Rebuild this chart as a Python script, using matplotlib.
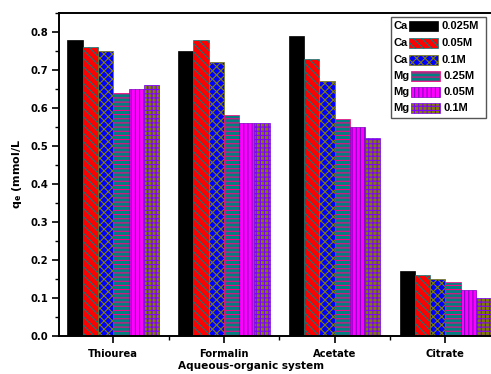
import matplotlib
matplotlib.use("Agg")
import matplotlib.pyplot as plt
from matplotlib.patches import Rectangle
from matplotlib.ticker import MultipleLocator
import numpy as np

plt.rcParams['font.family'] = ['DejaVu Sans']
plt.rcParams['font.weight'] = 'bold'
plt.rcParams['hatch.linewidth'] = 0.8

categories = ["Thiourea", "Formalin", "Acetate", "Citrate"]
series_ions = ["Ca", "Ca", "Ca", "Mg", "Mg", "Mg"]
series_conc = ["0.025M", "0.05M", "0.1M", "0.25M", "0.05M", "0.1M"]
values = [
    [0.78, 0.75, 0.79, 0.17],   # Ca 0.025M
    [0.76, 0.78, 0.73, 0.16],   # Ca 0.05M
    [0.75, 0.72, 0.67, 0.15],   # Ca 0.1M
    [0.64, 0.58, 0.57, 0.14],   # Mg 0.25M
    [0.65, 0.56, 0.55, 0.12],   # Mg 0.05M
    [0.66, 0.56, 0.52, 0.10],   # Mg 0.1M
]

faces = ["#000000", "#FF0000", "#0000FF", "#008080", "#FF00FF", "#808000"]
hatch_cols = ["#000000", "#008080", "#808000", "#FF0080", "#8000C0", "#8000FF"]
hatches = [None, "\\\\\\\\", "xxxx", "----", "||||", "++++"]

W, H = 491, 374
fig = plt.figure(figsize=(W / 100, H / 100), dpi=100)
ax = fig.add_axes([59 / W, 38.5 / H, 441.7 / W, 322.5 / H])

x = np.arange(len(categories))
w = 0.138
for k in range(6):
    ax.bar(x + (k - 2.5) * w, values[k], width=w, color=faces[k],
           edgecolor=hatch_cols[k], hatch=hatches[k], linewidth=0.5)

ax.set_xlim(-0.49, 3.5)
ax.set_ylim(0, 0.85)
ax.set_xticks(x)
ax.set_xticklabels(categories)
ax.set_xticks(x[:-1] + 0.5, minor=True)
ax.yaxis.set_major_locator(MultipleLocator(0.1))
ax.yaxis.set_minor_locator(MultipleLocator(0.05))
ax.tick_params(axis='both', which='major', direction='out', length=5, width=1.2,
               labelsize=7.2, pad=3)
ax.tick_params(axis='both', which='minor', direction='out', length=3, width=1.0)
ax.tick_params(axis='x', which='major', pad=5)
for lab in ax.get_xticklabels() + ax.get_yticklabels():
    lab.set_fontweight('bold')
for s in ax.spines.values():
    s.set_linewidth(1.4)

ax.set_ylabel("q$_\\mathbf{e}$ (mmol/L", fontsize=8, fontweight='bold', labelpad=4)
fig.text(251 / W, 1 - 366 / H, "Aqueous-organic system", fontsize=7.6,
         fontweight='bold', ha='center', va='center')

# legend (Origin style: ion, swatch, concentration)
def fx(px):
    return px / W

def fy(py):
    return 1 - py / H

box = Rectangle((fx(391), fy(118)), fx(486) - fx(391), fy(17) - fy(118),
                transform=fig.transFigure, facecolor='white', edgecolor='#555555',
                linewidth=1.0, zorder=5)
fig.patches.append(box)
rows = [26, 43, 60, 76, 92, 108]
for k in range(6):
    yc = rows[k]
    x0 = 409 if series_ions[k] == "Ca" else 411
    rect = Rectangle((fx(x0), fy(yc + 5)), fx(29), 10 / H,
                     transform=fig.transFigure, facecolor=faces[k],
                     edgecolor=hatch_cols[k], hatch=hatches[k], linewidth=0.5,
                     zorder=6)
    fig.patches.append(rect)
    fig.text(fx(393), fy(yc), series_ions[k], fontsize=8, fontweight='bold',
             family=['Liberation Sans', 'DejaVu Sans'], ha='left', va='center',
             zorder=7)
    fig.text(fx(x0 + 32), fy(yc), series_conc[k], fontsize=8, fontweight='bold',
             family=['Liberation Sans', 'DejaVu Sans'], ha='left', va='center',
             zorder=7)

fig.savefig("out.png", dpi=100)
